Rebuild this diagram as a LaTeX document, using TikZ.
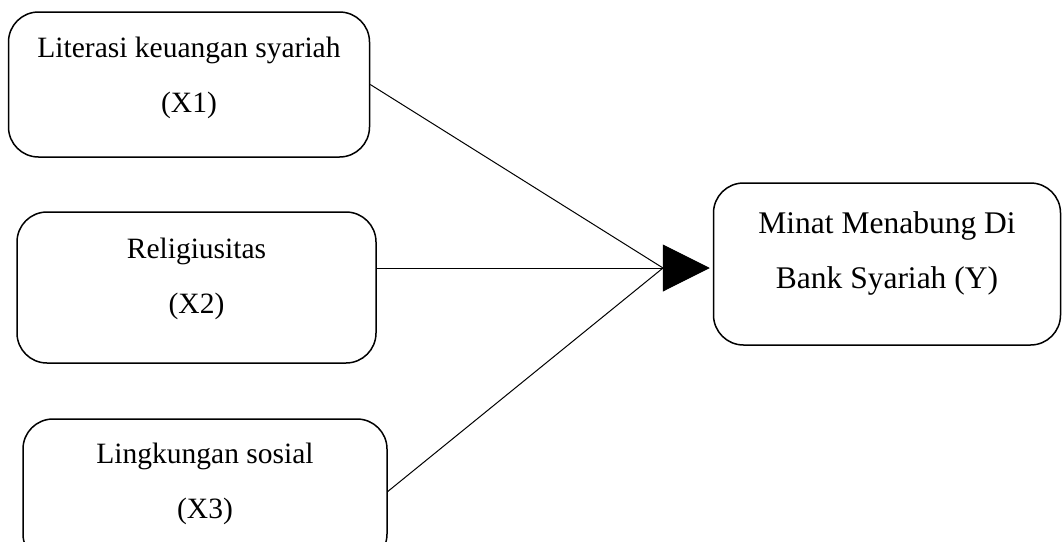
\documentclass[tikz,border=0pt]{standalone}
\usepackage{fontspec}
\setmainfont{Liberation Serif}
\usetikzlibrary{arrows.meta}
\newcommand{\twolines}[3]{\raisebox{#1}[\height][\depth]{\begin{tabular}{@{}c@{}}#2\\#3\end{tabular}}}
\begin{document}
\begin{tikzpicture}[x=1pt,y=-1pt]
    \tikzstyle{varbox}=[rectangle, draw, rounded corners=30pt, line width=1.5pt,
    font=\fontsize{29.5}{55}\selectfont, minimum width=364pt, minimum height=145pt]
    \useasboundingbox (0,0) rectangle (1062,541);
    \clip (0,0) rectangle (1062,541);
    \node[varbox, minimum width=361pt] (x1) at (189,84.5) {\twolines{11pt}{Literasi keuangan syariah}{(X1)}};
    \node[varbox, minimum width=359pt, minimum height=151pt] (x2) at (196.5,287.5) {\twolines{13pt}{Religiusitas}{(X2)}};
    \node[varbox] (x3) at (205,491.5) {\twolines{12pt}{Lingkungan sosial}{(X3)}};
    \node[varbox, minimum width=347pt, minimum height=162pt,
    font=\fontsize{31.5}{55}\selectfont] (y) at (887,264) {\twolines{14.5pt}{Minat Menabung Di}{Bank Syariah (Y)}};
    \coordinate (hub) at (663,268);
    \draw[line width=1pt] (x1.east) -- (hub);
    \draw[line width=1pt] (x3.east) -- (hub);
    \draw[line width=1pt, shorten >=3pt, -{Triangle[length=47pt,width=47pt]}] (hub -| x2.east) -- (y.west |- hub);
\end{tikzpicture}
\end{document}
